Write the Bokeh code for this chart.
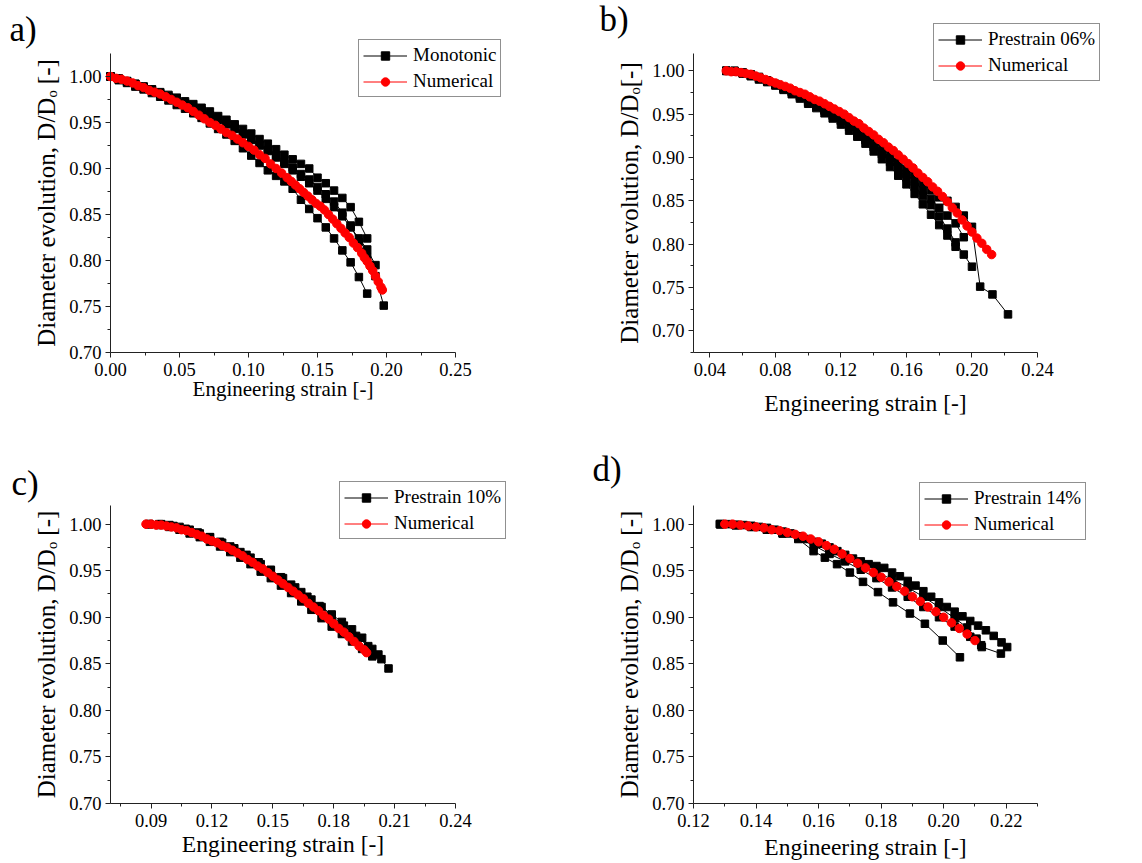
from bokeh.plotting import figure
from bokeh.models import Legend, LegendItem, Label, FixedTicker, NumeralTickFormatter, Range1d
from bokeh.layouts import column, row
from bokeh.embed import file_html
from bokeh.resources import INLINE

FONT = "Liberation Serif"

# ------------------------------------------------------------------ data
# panel a) Monotonic
a_exp_x = [0.000, 0.006, 0.012, 0.018, 0.024, 0.030, 0.036, 0.042, 0.048, 0.054,
           0.060, 0.066, 0.072, 0.078, 0.084, 0.090, 0.096, 0.102, 0.108, 0.114,
           0.120, 0.126, 0.132, 0.138, 0.144, 0.150, 0.156, 0.162, 0.168, 0.174,
           0.180, 0.186, 0.192, 0.198]
a_exp1_y = [1.000, 0.997, 0.995, 0.992, 0.989, 0.986, 0.983, 0.980, 0.977, 0.973,
            0.970, 0.966, 0.962, 0.957, 0.953, 0.948, 0.943, 0.938, 0.932, 0.927,
            0.921, 0.915, 0.910, 0.905, 0.900, 0.890, 0.884, 0.876, 0.868, 0.858,
            0.842, 0.824]
a_exp2_y = [1.000, 0.998, 0.995, 0.992, 0.989, 0.986, 0.982, 0.978, 0.975, 0.971,
            0.967, 0.963, 0.958, 0.954, 0.949, 0.944, 0.938, 0.932, 0.926, 0.920,
            0.914, 0.907, 0.901, 0.894, 0.888, 0.880, 0.872, 0.864, 0.852, 0.838,
            0.820, 0.804, 0.783, 0.751]
a_exp3_y = [1.000, 0.996, 0.993, 0.989, 0.986, 0.982, 0.978, 0.974, 0.969, 0.965,
            0.960, 0.955, 0.949, 0.943, 0.937, 0.930, 0.922, 0.914, 0.906, 0.898,
            0.892, 0.886, 0.878, 0.866, 0.856, 0.846, 0.836, 0.824, 0.811, 0.798,
            0.782, 0.764]
a_exp4_y = [1.000, 0.997, 0.994, 0.991, 0.988, 0.985, 0.981, 0.978, 0.974, 0.970,
            0.966, 0.962, 0.958, 0.953, 0.948, 0.943, 0.937, 0.931, 0.925, 0.919,
            0.912, 0.905, 0.898, 0.891, 0.884, 0.876, 0.867, 0.858, 0.848, 0.836,
            0.824, 0.812, 0.795]
a_num_x = [0.000, 0.004, 0.008, 0.012, 0.016, 0.020, 0.024, 0.028, 0.032, 0.036,
           0.040, 0.044, 0.048, 0.052, 0.056, 0.060, 0.064, 0.068, 0.072, 0.076,
           0.080, 0.084, 0.088, 0.092, 0.096, 0.100, 0.104, 0.108, 0.112, 0.116,
           0.120, 0.124, 0.128, 0.131, 0.134, 0.137, 0.140, 0.143, 0.146, 0.149,
           0.152, 0.155, 0.158, 0.161, 0.164, 0.167, 0.170, 0.173, 0.176, 0.179,
           0.182, 0.184, 0.186, 0.188, 0.190, 0.192, 0.194, 0.196, 0.197]
a_num_y = [1.000, 0.998, 0.997, 0.995, 0.993, 0.990, 0.988, 0.985, 0.983, 0.981,
           0.978, 0.975, 0.972, 0.969, 0.966, 0.962, 0.958, 0.954, 0.950, 0.947,
           0.943, 0.939, 0.936, 0.932, 0.928, 0.924, 0.920, 0.915, 0.911, 0.905,
           0.900, 0.895, 0.890, 0.886, 0.882, 0.878, 0.874, 0.870, 0.866, 0.862,
           0.859, 0.855, 0.850, 0.845, 0.840, 0.835, 0.830, 0.825, 0.819, 0.814,
           0.808, 0.803, 0.799, 0.794, 0.789, 0.783, 0.777, 0.771, 0.768]

# panel b) Prestrain 06%
b_exp_x = [0.050, 0.055, 0.060, 0.065, 0.070, 0.075, 0.080, 0.085, 0.090, 0.095,
           0.100, 0.105, 0.110, 0.115, 0.120, 0.125, 0.130, 0.135, 0.140, 0.145,
           0.150, 0.155, 0.160, 0.165, 0.170, 0.175, 0.180, 0.185, 0.190, 0.195,
           0.200]
b_exp1_tail_x = [0.205, 0.2125, 0.222]
b_exp1_y = [1.000, 1.000, 0.998, 0.996, 0.993, 0.989, 0.985, 0.981, 0.977, 0.972,
            0.967, 0.962, 0.957, 0.952, 0.946, 0.940, 0.933, 0.926, 0.919, 0.911,
            0.903, 0.895, 0.887, 0.879, 0.871, 0.862, 0.854, 0.850, 0.843, 0.833,
            0.820, 0.751, 0.742, 0.719]
b_exp2_y = [1.000, 0.999, 0.997, 0.994, 0.991, 0.988, 0.984, 0.979, 0.975, 0.970,
            0.964, 0.959, 0.954, 0.948, 0.942, 0.935, 0.928, 0.920, 0.912, 0.904,
            0.895, 0.886, 0.877, 0.866, 0.856, 0.845, 0.832, 0.818, 0.802, 0.788,
            0.774]
b_exp3_y = [1.000, 1.000, 0.998, 0.995, 0.992, 0.988, 0.984, 0.980, 0.976, 0.971,
            0.966, 0.960, 0.955, 0.949, 0.943, 0.937, 0.930, 0.922, 0.915, 0.907,
            0.899, 0.890, 0.881, 0.872, 0.862, 0.852, 0.842, 0.833, 0.824, 0.808]
b_exp4_y = [1.000, 0.999, 0.997, 0.994, 0.990, 0.987, 0.983, 0.978, 0.973, 0.968,
            0.962, 0.957, 0.951, 0.945, 0.938, 0.931, 0.924, 0.916, 0.907, 0.898,
            0.889, 0.879, 0.869, 0.858, 0.846, 0.834, 0.822, 0.810, 0.797]
b_num_x = [0.050, 0.053, 0.056, 0.059, 0.062, 0.065, 0.068, 0.071, 0.074, 0.077,
           0.080, 0.083, 0.086, 0.089, 0.092, 0.095, 0.098, 0.101, 0.104, 0.107,
           0.110, 0.113, 0.116, 0.119, 0.122, 0.125, 0.128, 0.131, 0.134, 0.137,
           0.140, 0.143, 0.146, 0.149, 0.152, 0.155, 0.158, 0.161, 0.164, 0.167,
           0.170, 0.173, 0.176, 0.179, 0.182, 0.185, 0.188, 0.191, 0.194, 0.197,
           0.200, 0.203, 0.206, 0.209, 0.212]
b_num_y = [1.000, 0.999, 0.999, 0.998, 0.997, 0.996, 0.994, 0.992, 0.990, 0.988,
           0.986, 0.984, 0.982, 0.980, 0.977, 0.975, 0.973, 0.970, 0.967, 0.965,
           0.962, 0.959, 0.956, 0.953, 0.950, 0.946, 0.942, 0.939, 0.934, 0.930,
           0.926, 0.921, 0.917, 0.912, 0.908, 0.903, 0.898, 0.893, 0.888, 0.882,
           0.877, 0.872, 0.866, 0.861, 0.855, 0.849, 0.842, 0.836, 0.828, 0.821,
           0.814, 0.807, 0.801, 0.794, 0.788]

# panel c) Prestrain 10%
c_exp1_x = [0.089, 0.094, 0.099, 0.104, 0.109, 0.114, 0.119, 0.124, 0.129, 0.134,
            0.139, 0.144, 0.149, 0.154, 0.159, 0.164, 0.169, 0.174, 0.179, 0.184,
            0.189, 0.194, 0.199, 0.2035, 0.207]
c_exp1_y = [1.000, 1.000, 0.999, 0.997, 0.994, 0.990, 0.986, 0.981, 0.976, 0.970,
            0.964, 0.957, 0.950, 0.943, 0.935, 0.927, 0.919, 0.911, 0.903, 0.895,
            0.887, 0.878, 0.866, 0.855, 0.845]
c_exp2_x = [0.089, 0.094, 0.099, 0.104, 0.109, 0.114, 0.119, 0.124, 0.129, 0.134,
            0.139, 0.144, 0.149, 0.154, 0.159, 0.164, 0.169, 0.174, 0.179, 0.184,
            0.189, 0.194, 0.199]
c_exp2_y = [1.000, 0.999, 0.997, 0.994, 0.990, 0.986, 0.981, 0.976, 0.970, 0.964,
            0.957, 0.949, 0.942, 0.934, 0.926, 0.917, 0.908, 0.899, 0.890, 0.882,
            0.874, 0.866, 0.858]
c_exp3_x = [0.089, 0.095, 0.101, 0.107, 0.113, 0.119, 0.125, 0.131, 0.137, 0.143,
            0.149, 0.155, 0.161, 0.167, 0.173, 0.179, 0.185, 0.191, 0.197, 0.202]
c_exp3_y = [1.000, 1.000, 0.998, 0.995, 0.991, 0.986, 0.980, 0.974, 0.967, 0.959,
            0.951, 0.942, 0.932, 0.922, 0.912, 0.901, 0.891, 0.880, 0.869, 0.860]
c_num_x = [0.0875, 0.0900, 0.0925, 0.0950, 0.0975, 0.1000, 0.1025, 0.1050, 0.1075, 0.1100,
           0.1125, 0.1150, 0.1175, 0.1200, 0.1225, 0.1250, 0.1275, 0.1300, 0.1325, 0.1350,
           0.1375, 0.1400, 0.1425, 0.1450, 0.1475, 0.1500, 0.1525, 0.1550, 0.1575, 0.1600,
           0.1625, 0.1650, 0.1675, 0.1700, 0.1725, 0.1750, 0.1775, 0.1800, 0.1825, 0.1850,
           0.1875, 0.1900, 0.1925, 0.1950, 0.1962]
c_num_y = [1.000, 1.000, 0.999, 0.999, 0.998, 0.997, 0.996, 0.994, 0.993, 0.991,
           0.989, 0.987, 0.984, 0.982, 0.980, 0.977, 0.975, 0.972, 0.969, 0.966,
           0.962, 0.959, 0.955, 0.952, 0.948, 0.944, 0.940, 0.936, 0.932, 0.928,
           0.924, 0.920, 0.915, 0.911, 0.907, 0.902, 0.898, 0.893, 0.888, 0.884,
           0.879, 0.874, 0.869, 0.865, 0.862]

# panel d) Prestrain 14%
d_exp1_x = [0.1285, 0.131, 0.1335, 0.136, 0.1385, 0.141, 0.1435, 0.146, 0.1485, 0.151,
            0.1535, 0.156, 0.1585, 0.161, 0.1635, 0.166, 0.1685, 0.171, 0.1735, 0.176,
            0.1785, 0.181, 0.1835, 0.186, 0.1885, 0.191, 0.1935, 0.196, 0.1985, 0.201,
            0.2035, 0.206, 0.2085, 0.211, 0.2135, 0.216, 0.2185, 0.2203]
d_exp1_y = [1.000, 1.000, 0.999, 0.999, 0.998, 0.997, 0.996, 0.994, 0.992, 0.990,
            0.987, 0.984, 0.981, 0.979, 0.975, 0.971, 0.967, 0.963, 0.960, 0.957,
            0.955, 0.953, 0.948, 0.944, 0.939, 0.934, 0.928, 0.922, 0.916, 0.911,
            0.906, 0.901, 0.896, 0.891, 0.886, 0.880, 0.873, 0.868]
d_exp2_x = [0.1285, 0.1335, 0.1385, 0.1435, 0.1485, 0.1535, 0.1585, 0.1635, 0.1685, 0.1735,
            0.1785, 0.1835, 0.1885, 0.1935, 0.1985, 0.2035, 0.2075, 0.2105, 0.2122, 0.2183]
d_exp2_y = [1.000, 0.999, 0.998, 0.995, 0.991, 0.986, 0.979, 0.971, 0.963, 0.955,
            0.948, 0.941, 0.932, 0.922, 0.911, 0.899, 0.889, 0.877, 0.868, 0.861]
d_exp3_x = [0.1285, 0.1335, 0.1385, 0.1435, 0.1485, 0.1535, 0.1584, 0.162, 0.1659, 0.170,
            0.1742, 0.179, 0.1838, 0.1892, 0.194, 0.1997, 0.2052]
d_exp3_y = [1.000, 0.999, 0.997, 0.994, 0.990, 0.984, 0.971, 0.964, 0.957, 0.948,
            0.938, 0.927, 0.916, 0.904, 0.893, 0.875, 0.857]
d_exp4_x = [0.1285, 0.1335, 0.1385, 0.1435, 0.1485, 0.1535, 0.1585, 0.1635, 0.1685, 0.1735,
            0.1785, 0.1835, 0.1885, 0.1935, 0.1985, 0.2035, 0.2085, 0.2120]
d_exp4_y = [1.000, 0.999, 0.997, 0.994, 0.990, 0.985, 0.977, 0.968, 0.960, 0.951,
            0.942, 0.932, 0.922, 0.911, 0.900, 0.890, 0.879, 0.870]
d_num_x = [0.1300, 0.1325, 0.1350, 0.1375, 0.1400, 0.1425, 0.1450, 0.1475, 0.1500, 0.1525,
           0.1550, 0.1575, 0.1600, 0.1625, 0.1650, 0.1675, 0.1700, 0.1725, 0.1750, 0.1775,
           0.1800, 0.1825, 0.1850, 0.1875, 0.1900, 0.1925, 0.1950, 0.1975, 0.2000, 0.2025,
           0.2050, 0.2075, 0.2100]
d_num_y = [1.000, 1.000, 0.999, 0.998, 0.997, 0.996, 0.994, 0.993, 0.991, 0.989,
           0.987, 0.984, 0.981, 0.977, 0.973, 0.968, 0.963, 0.958, 0.953, 0.948,
           0.943, 0.938, 0.933, 0.928, 0.922, 0.917, 0.911, 0.906, 0.900, 0.894,
           0.888, 0.882, 0.875]

# ticks
a_xticks = [0.00, 0.05, 0.10, 0.15, 0.20, 0.25]
a_xminor = [0.025, 0.075, 0.125, 0.175, 0.225]
b_xticks = [0.04, 0.08, 0.12, 0.16, 0.20, 0.24]
b_xminor = [0.06, 0.10, 0.14, 0.18, 0.22]
c_xticks = [0.09, 0.12, 0.15, 0.18, 0.21, 0.24]
c_xminor = [0.075, 0.105, 0.135, 0.165, 0.195, 0.225]
d_xticks = [0.12, 0.14, 0.16, 0.18, 0.20, 0.22]
d_xminor = [0.13, 0.15, 0.17, 0.19, 0.21, 0.23]
y_ticks = [0.70, 0.75, 0.80, 0.85, 0.90, 0.95, 1.00]
y_minor = [0.725, 0.775, 0.825, 0.875, 0.925, 0.975]
y_minor_b = [0.675, 0.725, 0.775, 0.825, 0.875, 0.925, 0.975]

x_title = "Engineering strain [-]"
y_title = "Diameter evolution, D/D\u2092 [-]"
y_title_b = "Diameter evolution, D/D\u2092[-]"


# ------------------------------------------------------------------ helpers
def make_panel(width, height, axes_px, xr, yr, xt, xm, ym, ylabel, xlab_size, xlab_standoff):
    # axes_px: pixel position (in this figure) of the axis box: left, right, top, bottom
    left, right, top, bottom = axes_px
    sx = (right - left) / (xr[1] - xr[0])
    sy = (bottom - top) / (yr[1] - yr[0])
    x_rng = Range1d(xr[0] - left / sx, xr[0] + (width - left) / sx)
    y_rng = Range1d(yr[0] - (height - bottom) / sy, yr[1] + top / sy)
    p = figure(width=width, height=height, x_range=x_rng, y_range=y_rng,
               output_backend="svg", toolbar_location=None, title=None,
               min_border_left=0, min_border_right=0,
               min_border_top=0, min_border_bottom=0)
    p.grid.visible = False
    p.outline_line_color = None
    p.background_fill_color = "white"
    p.border_fill_color = "white"
    p.xaxis.ticker = FixedTicker(ticks=xt, minor_ticks=xm)
    p.yaxis.ticker = FixedTicker(ticks=y_ticks, minor_ticks=ym)
    p.xaxis.fixed_location = yr[0]
    p.yaxis.fixed_location = xr[0]
    p.xaxis.bounds = (xr[0], xr[1])
    p.yaxis.bounds = (yr[0], yr[1])
    for ax in (p.xaxis[0], p.yaxis[0]):
        ax.formatter = NumeralTickFormatter(format="0.00")
        ax.axis_line_color = "#222222"
        ax.axis_line_width = 1
        ax.major_tick_line_color = "#222222"
        ax.minor_tick_line_color = "#222222"
        ax.major_tick_out = 5
        ax.major_tick_in = 0
        ax.minor_tick_out = 3
        ax.minor_tick_in = 0
        ax.major_label_text_font = FONT
        ax.major_label_text_font_size = "18.5px"
        ax.major_label_text_color = "black"
        ax.axis_label_text_font = FONT
        ax.axis_label_text_font_style = "normal"
        ax.axis_label_text_color = "black"
    p.xaxis.axis_label = x_title
    p.xaxis.axis_label_text_font_size = xlab_size
    p.xaxis.axis_label_standoff = xlab_standoff
    p.xaxis.major_label_standoff = 5
    p.yaxis.axis_label = ylabel
    p.yaxis.axis_label_text_font_size = "25px"
    p.yaxis.axis_label_standoff = 6
    p.yaxis.major_label_standoff = 4
    return p


def add_exp(p, xs, ys):
    n = min(len(xs), len(ys))
    l = p.line(xs[:n], ys[:n], line_color="black", line_width=1)
    s = p.scatter(xs[:n], ys[:n], marker="square", size=7.5,
                  fill_color="black", line_color="black")
    return [l, s]


def add_num(p, xs, ys):
    n = min(len(xs), len(ys))
    l = p.line(xs[:n], ys[:n], line_color="red", line_width=1)
    s = p.scatter(xs[:n], ys[:n], marker="circle", size=8.5,
                  fill_color="red", line_color="red")
    return [l, s]


def add_legend(p, exp_r, num_r, exp_label, loc):
    leg = Legend(items=[LegendItem(label=exp_label, renderers=exp_r),
                        LegendItem(label="Numerical", renderers=num_r)],
                 location=loc, margin=0, padding=4, spacing=4,
                 glyph_width=44, glyph_height=21, label_height=21, label_standoff=6,
                 border_line_color="#222222", border_line_width=1,
                 background_fill_color="white", background_fill_alpha=1.0,
                 label_text_font=FONT, label_text_font_size="19px",
                 label_text_color="black")
    p.add_layout(leg)


def add_tag(p, text, x, y):
    p.add_layout(Label(x=x, y=y, x_units="screen", y_units="screen", text=text,
                       text_font=FONT, text_font_size="35px", text_color="black",
                       text_baseline="middle", text_align="left"))


# ------------------------------------------------------------------ panel a
pa = make_panel(580, 430, (110, 455, 53, 352), (0.0, 0.25), (0.70, 1.025),
                a_xticks, a_xminor, y_minor, y_title, "21px", -2)
ra = add_exp(pa, a_exp_x, a_exp1_y)
add_exp(pa, a_exp_x, a_exp2_y)
add_exp(pa, a_exp_x, a_exp3_y)
add_exp(pa, a_exp_x, a_exp4_y)
rna = add_num(pa, a_num_x, a_num_y)
add_legend(pa, ra, rna, "Monotonic", (358, 333))
add_tag(pa, "a)", 9, 401)

# ------------------------------------------------------------------ panel b
pb = make_panel(562, 430, (113, 457, 53, 352), (0.03, 0.24), (0.675, 1.02),
                b_xticks, b_xminor, y_minor_b, y_title_b, "23.5px", 11)
rb = add_exp(pb, b_exp_x + b_exp1_tail_x, b_exp1_y)
add_exp(pb, b_exp_x, b_exp2_y)
add_exp(pb, b_exp_x, b_exp3_y)
add_exp(pb, b_exp_x, b_exp4_y)
rnb = add_num(pb, b_num_x, b_num_y)
add_legend(pb, rb, rnb, "Prestrain 06%", (353, 349))
add_tag(pb, "b)", 19, 411)

# ------------------------------------------------------------------ panel c
pc = make_panel(580, 433, (110, 455, 75, 373), (0.07, 0.24), (0.70, 1.02),
                c_xticks, c_xminor, y_minor, y_title, "23.5px", 1)
rc = add_exp(pc, c_exp1_x, c_exp1_y)
add_exp(pc, c_exp2_x, c_exp2_y)
add_exp(pc, c_exp3_x, c_exp3_y)
rnc = add_num(pc, c_num_x, c_num_y)
add_legend(pc, rc, rnc, "Prestrain 10%", (339, 324))
add_tag(pc, "c)", 11, 380)

# ------------------------------------------------------------------ panel d
pd_ = make_panel(562, 433, (113, 457, 75, 373), (0.12, 0.23), (0.70, 1.02),
                 d_xticks, d_xminor, y_minor, y_title, "23.5px", 4)
rd = add_exp(pd_, d_exp1_x, d_exp1_y)
add_exp(pd_, d_exp2_x, d_exp2_y)
add_exp(pd_, d_exp3_x, d_exp3_y)
add_exp(pd_, d_exp4_x, d_exp4_y)
rnd = add_num(pd_, d_num_x, d_num_y)
add_legend(pd_, rd, rnd, "Prestrain 14%", (339, 323))
add_tag(pd_, "d)", 12, 394)

p = column(row(pa, pb), row(pc, pd_))
open("out.html", "w").write(file_html(p, INLINE))
